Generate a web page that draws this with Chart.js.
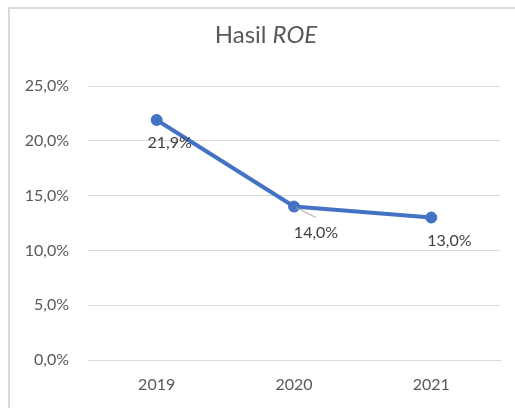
<!DOCTYPE html>
<html><head><meta charset="utf-8">
<script src="https://cdn.jsdelivr.net/npm/chart.js@4/dist/chart.umd.min.js"></script>
<style>html,body{margin:0;padding:0;background:#fff}#wrap{width:515px;height:408px;position:relative}</style>
</head><body><div id="wrap"><canvas id="c" width="515" height="408"></canvas></div>
<script>
const categories = ['2019', '2020', '2021'];
const roeValues = [21.9, 14.0, 13.0];
const yTickValues = [0, 5, 10, 15, 20, 25];
const titleRegular = 'Hasil ';
const titleItalic = 'ROE';

const FONT = 'Lato, "Liberation Sans", sans-serif';
const fmt = v => v.toFixed(1).replace('.', ',') + '%';

// label offsets (style), per point index: dx, dy of label centre, leader line flag
const labelOffsets = [
  { dx: 13, dy: 23, leader: false },
  { dx: 22, dy: 26, leader: true },
  { dx: 18, dy: 23, leader: false }
];

const framePlugin = {
  id: 'frame',
  beforeDraw(chart) {
    const ctx = chart.ctx;
    ctx.save();
    ctx.fillStyle = '#fff';
    ctx.fillRect(0, 0, chart.width, chart.height);
    ctx.strokeStyle = '#d9d9d9';
    ctx.lineWidth = 2;
    ctx.strokeRect(9, 8, chart.width + 20, chart.height + 20);
    // title
    ctx.textBaseline = 'alphabetic';
    ctx.fillStyle = '#595959';
    ctx.font = '24px ' + FONT;
    const w1 = ctx.measureText(titleRegular).width;
    ctx.font = 'italic 24px ' + FONT;
    const w2 = ctx.measureText(titleItalic).width;
    const x0 = 266 - (w1 + w2) / 2;
    ctx.font = '24px ' + FONT;
    ctx.textAlign = 'left';
    ctx.fillText(titleRegular, x0, 43);
    ctx.font = 'italic 24px ' + FONT;
    ctx.fillText(titleItalic, x0 + w1, 43);
    ctx.restore();
  }
};

const labelPlugin = {
  id: 'dlabels',
  afterDatasetsDraw(chart) {
    const ctx = chart.ctx;
    const meta = chart.getDatasetMeta(0);
    ctx.save();
    ctx.font = '16px ' + FONT;
    ctx.fillStyle = '#404040';
    ctx.textAlign = 'center';
    ctx.textBaseline = 'middle';
    meta.data.forEach((pt, i) => {
      const o = labelOffsets[i];
      const lx = pt.x + o.dx, ly = pt.y + o.dy;
      if (o.leader) {
        ctx.strokeStyle = '#a6a6a6';
        ctx.lineWidth = 1;
        ctx.beginPath();
        ctx.moveTo(pt.x + 2, pt.y + 1);
        ctx.lineTo(pt.x + 22, pt.y + 11);
        ctx.stroke();
      }
      ctx.fillText(fmt(roeValues[i]), lx, ly);
    });
    ctx.restore();
  }
};

new Chart(document.getElementById('c'), {
  type: 'line',
  data: {
    labels: categories,
    datasets: [{
      data: roeValues,
      borderColor: '#4472c4',
      backgroundColor: '#4472c4',
      borderWidth: 4,
      pointRadius: 5.5,
      pointBackgroundColor: '#4472c4',
      pointBorderColor: '#4472c4',
      pointBorderWidth: 1,
      tension: 0,
      clip: false
    }]
  },
  options: {
    responsive: false,
    animation: false,
    layout: { padding: { top: 86, right: 15, bottom: 0, left: 0 } },
    plugins: { legend: { display: false }, title: { display: false }, tooltip: { enabled: false } },
    scales: {
      x: {
        offset: true,
        grid: { display: false, drawTicks: false },
        border: { display: true, color: '#d9d9d9', width: 1 },
        ticks: { color: '#595959', font: { family: FONT, size: 16 }, padding: 15 },
        afterFit(s) { s.height = 48; }
      },
      y: {
        min: yTickValues[0],
        max: yTickValues[yTickValues.length - 1],
        afterBuildTicks(s) { s.ticks = yTickValues.map(v => ({ value: v })); },
        grid: { color: '#d9d9d9', lineWidth: 1, drawTicks: false },
        border: { display: false },
        ticks: { color: '#595959', font: { family: FONT, size: 16 }, padding: 19, callback: v => fmt(v) },
        afterFit(s) { s.width = 88; }
      }
    }
  },
  plugins: [framePlugin, labelPlugin]
});
</script></body></html>
